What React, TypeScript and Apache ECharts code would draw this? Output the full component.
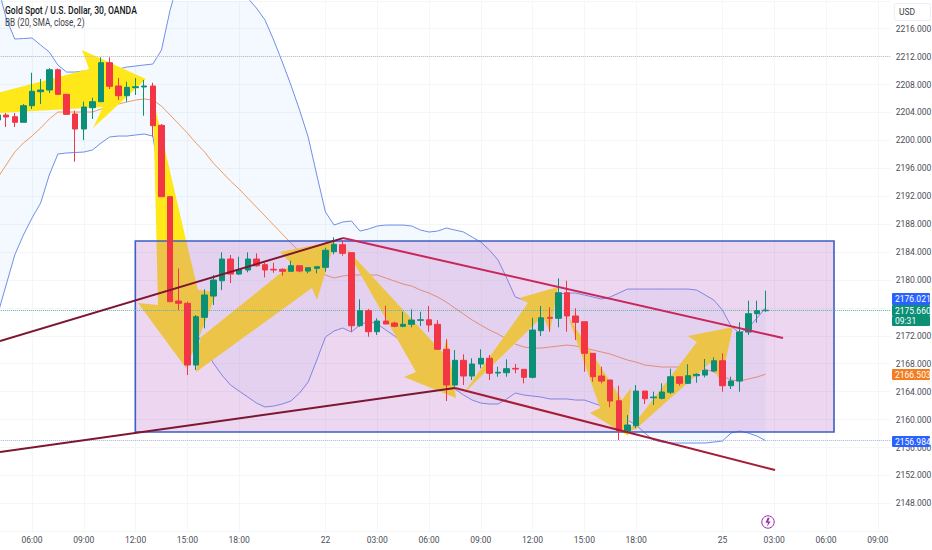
import React, { useEffect, useRef } from "react";
import * as echarts from "echarts";

const timeLabels: Record<number, string> = {
  4: "06:00", 10: "09:00", 16: "12:00", 22: "15:00", 28: "18:00", 38: "22", 44: "03:00", 50: "06:00",
  56: "09:00", 62: "12:00", 68: "15:00", 74: "18:00", 84: "25", 90: "03:00", 96: "06:00", 102: "09:00",
};
const BAR_SLOTS = 104;
const categories = Array.from({ length: BAR_SLOTS }, (_, i) => timeLabels[i] ?? "");

// open, close, low, high
const candles = [
  [2202.92,2203.63,2202.5,2204.0],[2203.63,2203.35,2201.91,2203.92],[2203.39,2202.59,2201.91,2203.92],[2202.59,2204.97,2202.59,2205.2],
  [2204.97,2207.03,2204.49,2209.69],[2206.97,2207.22,2205.21,2208.79],[2207.22,2210.12,2206.79,2210.35],[2210.12,2206.6,2206.6,2210.3],
  [2206.6,2203.73,2203.63,2206.64],[2203.78,2201.63,2196.94,2204.25],[2201.63,2204.78,2200.05,2205.54],[2204.68,2205.54,2203.06,2206.11],
  [2205.54,2211.13,2205.54,2211.9],[2211.13,2207.75,2207.36,2211.9],[2207.79,2206.4,2205.78,2208.93],[2206.4,2207.6,2205.54,2208.4],
  [2207.55,2207.69,2206.5,2208.93],[2207.65,2207.79,2203.53,2208.65],[2207.79,2202.1,2200.52,2208.26],[2202.16,2191.93,2191.88,2202.34],
  [2191.93,2176.89,2176.84,2192.03],[2176.98,2176.66,2175.7,2181.67],[2176.66,2167.82,2166.38,2176.89],[2167.82,2174.74,2167.1,2174.98],
  [2174.65,2177.85,2173.07,2178.66],[2177.7,2179.99,2176.41,2180.71],[2179.89,2183.0,2178.56,2183.96],[2183.0,2180.85,2179.56,2183.58],
  [2180.85,2181.47,2180.71,2183.33],[2181.43,2183.0,2181.1,2183.96],[2183.0,2182.04,2181.9,2183.82],[2182.19,2181.43,2180.38,2182.47],
  [2181.53,2181.43,2181.04,2182.47],[2181.53,2181.24,2180.61,2181.67],[2181.24,2182.04,2181.18,2182.76],[2182.04,2181.28,2181.1,2182.04],
  [2181.28,2181.76,2180.95,2181.76],[2181.67,2181.9,2180.95,2181.9],[2181.81,2184.25,2181.18,2184.62],[2184.05,2185.11,2183.68,2186.11],
  [2185.05,2183.82,2183.47,2185.72],[2183.91,2173.45,2172.59,2183.91],[2173.45,2175.6,2173.3,2177.23],[2175.6,2172.59,2171.87,2175.84],
  [2172.59,2174.12,2172.12,2174.51],[2174.12,2173.69,2173.69,2176.31],[2173.83,2173.36,2173.22,2174.02],[2173.36,2173.65,2173.22,2175.45],
  [2173.65,2174.26,2173.22,2175.8],[2174.22,2174.3,2173.4,2175.45],[2174.3,2173.55,2172.59,2176.27],[2173.65,2170.07,2170.07,2174.26],
  [2170.07,2164.95,2162.66,2171.5],[2164.95,2168.49,2164.71,2169.97],[2168.49,2166.24,2164.95,2169.35],[2166.24,2167.96,2165.67,2168.78],
  [2167.96,2168.78,2167.34,2170.07],[2168.78,2166.63,2165.67,2169.25],[2166.67,2166.77,2166.14,2167.57],[2166.71,2167.29,2166.14,2168.63],
  [2167.34,2167.24,2166.63,2167.96],[2167.2,2166.05,2165.19,2167.2],[2166.05,2172.83,2165.91,2174.59],[2172.73,2174.59,2171.97,2176.27],
  [2174.65,2174.51,2172.59,2176.08],[2174.51,2178.17,2173.22,2180.24],[2178.17,2174.84,2172.59,2179.89],[2174.84,2173.93,2171.4,2175.94],
  [2174.02,2169.49,2166.86,2174.02],[2169.49,2166.14,2165.42,2169.49],[2166.24,2165.52,2165.19,2167.57],[2165.67,2162.66,2161.76,2165.67],
  [2162.7,2158.36,2157.07,2164.85],[2158.36,2159.22,2158.03,2160.65],[2159.12,2164.09,2158.75,2164.95],[2164.09,2162.99,2162.23,2164.09],
  [2163.13,2163.23,2162.09,2163.99],[2163.04,2163.95,2162.9,2165.19],[2163.91,2166.14,2163.66,2167.29],[2166.14,2165.19,2164.85,2166.14],
  [2165.19,2166.28,2165.09,2167.92],[2166.28,2166.48,2165.28,2166.63],[2166.38,2167.06,2166.05,2168.68],[2166.96,2168.43,2166.86,2168.92],
  [2168.43,2164.85,2163.99,2169.49],[2164.85,2165.52,2164.38,2166.14],[2165.52,2172.54,2163.99,2173.93],[2172.54,2175.17,2172.12,2177.03],
  [2175.17,2175.6,2173.87,2177.03],[2175.6,2175.66,2175.45,2178.46],
];

const bbUpper = [
  2222.26,2217.53,2214.52,2214.59,2214.67,2213.66,2212.66,2210.8,2209.79,2209.79,2209.94,2210.08,2210.08,2210.08,2210.22,2210.51,
  2210.65,2210.8,2210.94,2212.95,2218.68,2222.98,2225.84,2227.99,2229.42,2230.14,2229.42,2226.56,2223.69,2220.4,2218.96,2217.24,
  2214.38,2211.23,2207.93,2204.35,2200.48,2195.04,2189.74,2187.87,2188.3,2188.45,2187.01,2187.3,2187.73,2187.87,2187.87,2187.87,
  2187.73,2187.16,2186.87,2187.01,2187.44,2187.16,2186.87,2186.15,2185.44,2184.29,2182.86,2180.28,2177.56,2177.13,2177.13,2177.42,
  2177.7,2177.99,2178.13,2178.13,2177.85,2177.56,2177.27,2177.56,2178.13,2178.7,2178.7,2178.7,2178.7,2178.7,2178.7,2178.7,
  2178.7,2178.56,2177.85,2177.13,2175.7,2173.4,2172.4,2173.12,2174.55,2176.02,
];
const bbLower = [
  2174.98,2179.28,2183.58,2186.44,2188.88,2191.03,2195.04,2198.05,2198.19,2198.26,2198.33,2198.62,2199.62,2200.48,2200.62,2200.62,
  2200.77,2200.91,2200.62,2192.89,2184.29,2178.56,2174.98,2172.4,2170.39,2168.1,2166.38,2164.95,2164.09,2163.23,2162.37,2161.8,
  2161.94,2162.23,2162.66,2163.8,2165.38,2168.53,2171.83,2172.69,2173.12,2172.55,2173.55,2174.12,2173.69,2172.83,2171.97,2170.97,
  2169.68,2168.24,2166.81,2165.67,2164.95,2164.38,2163.52,2162.8,2162.37,2162.23,2162.23,2162.95,2163.8,2163.52,2163.37,2163.23,
  2162.95,2162.95,2162.95,2162.8,2162.8,2162.37,2161.94,2161.08,2160.51,2159.94,2159.22,2158.07,2157.07,2156.78,2156.64,2156.64,
  2156.64,2156.64,2156.64,2156.78,2156.93,2158.07,2158.36,2158.07,2157.64,2156.98,
];
const bbBasis = [
  2194.61,2196.47,2198.33,2199.62,2200.62,2201.77,2203.06,2204.06,2204.06,2204.06,2204.06,2204.06,2204.49,2204.92,2205.21,2205.5,
  2205.78,2205.93,2205.78,2204.92,2203.63,2202.34,2201.05,2199.62,2198.33,2196.76,2195.47,2194.18,2193.03,2191.74,2190.45,2189.16,
  2187.87,2186.58,2185.3,2184.01,2182.86,2181.57,2180.71,2180.28,2180.57,2180.71,2180.71,2180.71,2180.71,2180.28,2179.85,2179.42,
  2179.13,2178.56,2178.13,2177.56,2176.84,2175.98,2175.12,2174.26,2173.55,2172.83,2172.26,2171.54,2170.82,2170.39,2170.25,2170.25,
  2170.39,2170.54,2170.68,2170.54,2170.25,2169.97,2169.68,2169.39,2168.96,2168.53,2168.24,2167.81,2167.67,2167.53,2167.53,2167.53,
  2167.53,2167.39,2167.24,2166.81,2166.24,2165.67,2165.52,2165.81,2166.1,2166.5,
];

// drawings, as [bar number, price]
const arrows = [
  [[0,2206.79],[10.6,2210.22],[9.79,2212.95],[17.2,2208.79],[11.07,2201.77],[12.22,2204.78],[0,2203.92]],
  [[18.02,2206.07],[21.84,2185.72],[23.23,2178.56],[25.43,2178.27],[23.46,2172.12],[21.84,2167.39],[16.28,2176.7],[18.6,2176.41]],
  [[23.0,2166.81],[36.44,2178.85],[37.02,2177.13],[39.11,2185.58],[32.73,2184.0],[34.12,2182.29],[23.46,2171.68]],
  [[40.27,2184.72],[51.62,2169.53],[52.08,2171.68],[53.13,2163.09],[47.1,2166.1],[48.49,2166.81]],
  [[53.94,2163.66],[63.21,2174.84],[64.02,2172.55],[64.95,2178.99],[60.43,2177.42],[61.47,2176.7]],
  [[66.1,2174.84],[72.36,2162.8],[73.4,2164.52],[73.06,2157.64],[68.65,2160.94],[69.82,2161.65]],
  [[73.06,2158.22],[74.1,2158.79],[82.56,2168.1],[83.83,2165.38],[85.22,2173.26],[80.0,2171.97],[81.05,2171.11]],
];
const boxCorners = [[15.97,2185.58],[96.93,2158.22]];
const trendLines = [
  { color: "#7d1630", points: [[0.29,2171.25],[40.03,2186.0]] },
  { color: "#7d1630", points: [[0.29,2155.35],[53.01,2164.52]] },
  { color: "#c9265a", points: [[40.03,2186.0],[91.02,2171.68]] },
  { color: "#a51d35", points: [[53.01,2164.52],[90.1,2152.77]] },
];
const priceLevels = [
  { value: 2212, color: "#b8bcc4" },
  { value: 2175.66, color: "#5fb3a3" },
  { value: 2156.984, color: "#9fb4d8" },
];
const hiddenPriceTicks = [2176];
const flags = [
  { text: "2176.021", top: 293, height: 12, fill: "#2962ff" },
  { text: "2175.660", top: 305, height: 11, fill: "#0b8f75" },
  { text: "09:31", top: 316, height: 10, fill: "#0b8f75" },
  { text: "2166.503", top: 369, height: 11, fill: "#f57c1f" },
  { text: "2156.984", top: 436, height: 11, fill: "#2962ff" },
];

const FONT = "Roboto, sans-serif";

function overlay(name: string, z: number, build: (api: any) => any) {
  return {
    name, type: "custom", xAxisIndex: 1, z, clip: true, silent: true,
    data: [[0, 2180]],
    renderItem: (_p: any, api: any) => build(api),
  };
}

export default function App() {
  const ref = useRef<HTMLDivElement>(null);
  useEffect(() => {
    document.body.style.margin = "0";
    echarts.graphic.registerShape(
      "bolt",
      echarts.graphic.extendPath("M2 0 L0 5 L2.4 5 L1.4 9 L5 3.6 L2.6 3.6 L4 0 Z", {}) as any
    );
    const chart = echarts.init(ref.current!, undefined, { renderer: "svg" });
    const showTick = (i: number) => categories[i] !== "";
    chart.setOption({
      animation: false,
      backgroundColor: "#ffffff",
      grid: { left: -6.815, top: 0.78, width: BAR_SLOTS * 8.63, height: 530.48, outerBoundsMode: "none" },
      xAxis: [
        {
          type: "category", data: categories, boundaryGap: true,
          axisLine: { show: false }, axisTick: { show: false },
          axisLabel: { interval: (i: number) => showTick(i), color: "#4a4e57", fontSize: 8.5, fontFamily: FONT, margin: 4 },
          splitLine: { show: true, alignWithLabel: true, interval: (i: number) => showTick(i), lineStyle: { color: "#f5f6f8", width: 1 } },
        },
        { type: "value", show: false, min: -0.5, max: BAR_SLOTS - 0.5, position: "top" },
      ],
      yAxis: {
        type: "value", position: "right", min: 2144, max: 2220, interval: 4, scale: true,
        axisLine: { show: false }, axisTick: { show: false },
        axisLabel: {
          showMinLabel: false, showMaxLabel: false, margin: 5,
          color: "#4a4e57", fontSize: 8.5, fontFamily: FONT,
          formatter: (v: number) => (hiddenPriceTicks.includes(v) ? "" : v.toFixed(3)),
        },
        splitLine: { show: true, lineStyle: { color: "#f5f6f8", width: 1 } },
      },
      series: [
        overlay("band", 1, (api) => ({
          type: "polygon",
          shape: {
            points: [
              ...bbUpper.map((v, i) => api.coord([i, v])),
              ...bbLower.map((v, i) => api.coord([i, v])).reverse(),
            ],
          },
          style: { fill: "rgba(33,150,243,0.055)" },
        })),
        {
          name: "Upper", type: "line", data: bbUpper, symbol: "none", z: 2, silent: true,
          lineStyle: { color: "#6f8fe8", width: 1 },
          markLine: {
            silent: true, symbol: "none", label: { show: false }, animation: false,
            data: priceLevels.map((l) => ({ yAxis: l.value, lineStyle: { color: l.color, type: "dotted", width: 1 } })),
          },
        },
        { name: "Lower", type: "line", data: bbLower, symbol: "none", z: 2, silent: true, lineStyle: { color: "#6f8fe8", width: 1 } },
        { name: "Basis", type: "line", data: bbBasis, symbol: "none", z: 2, silent: true, lineStyle: { color: "#f29a5c", width: 1 } },
        overlay("arrows", 3, (api) => ({
          type: "group",
          children: arrows.map((pts) => ({
            type: "polygon",
            shape: { points: pts.map((p) => api.coord(p)) },
            style: { fill: "#ffe81a" },
          })),
        })),
        overlay("box", 4, (api) => {
          const a = api.coord(boxCorners[0]);
          const b = api.coord(boxCorners[1]);
          return {
            type: "rect",
            shape: { x: a[0], y: a[1], width: b[0] - a[0], height: b[1] - a[1] },
            style: { fill: "rgba(186,104,200,0.27)", stroke: "#3c5fc4", lineWidth: 1.6 },
          };
        }),
        {
          name: "Gold", type: "candlestick", data: candles, z: 5, barWidth: 6, silent: true,
          itemStyle: { color: "#0b8f75", color0: "#f23645", borderColor: "#0b8f75", borderColor0: "#f23645", borderWidth: 1 },
        },
        overlay("trends", 6, (api) => ({
          type: "group",
          children: trendLines.map((t) => ({
            type: "polyline",
            shape: { points: t.points.map((p) => api.coord(p)) },
            style: { stroke: t.color, lineWidth: 2, fill: "none" },
          })),
        })),
      ],
      graphic: [
        { type: "text", z: 100, x: 5, y: 5, scaleX: 0.82, style: { text: "Gold Spot / U.S. Dollar, 30, OANDA", fill: "#131722", font: `500 10.5px Roboto, sans-serif` } },
        { type: "text", z: 100, x: 5, y: 18, scaleX: 0.82, style: { text: "BB (20, SMA, close, 2)", fill: "#3d4048", font: `10px Roboto, sans-serif` } },
        { type: "rect", z: 100, shape: { x: 894.5, y: 3.5, width: 36, height: 17, r: 2 }, style: { fill: "#ffffff", stroke: "#eceef2", lineWidth: 1 } },
        { type: "text", z: 101, x: 899, y: 7, style: { text: "USD", fill: "#3d4048", font: `8.5px ${FONT}` } },
        ...flags.flatMap((f) => [
          { type: "rect", z: 100, shape: { x: 892, y: f.top, width: 38, height: f.height, r: 1 }, style: { fill: f.fill } },
          { type: "text", z: 101, x: 895, y: f.top + f.height / 2, style: { text: f.text, fill: "#ffffff", font: `8.5px ${FONT}`, verticalAlign: "middle" } },
        ]),
        { type: "circle", z: 100, shape: { cx: 768, cy: 522, r: 6.2 }, style: { fill: "#ffffff", stroke: "#9c27b0", lineWidth: 1 } },
        { type: "bolt", z: 101, x: 765.6, y: 517.8, style: { fill: "#9c27b0" } },
      ],
    });
    return () => chart.dispose();
  }, []);
  return <div ref={ref} style={{ width: 932, height: 550 }} />;
}
